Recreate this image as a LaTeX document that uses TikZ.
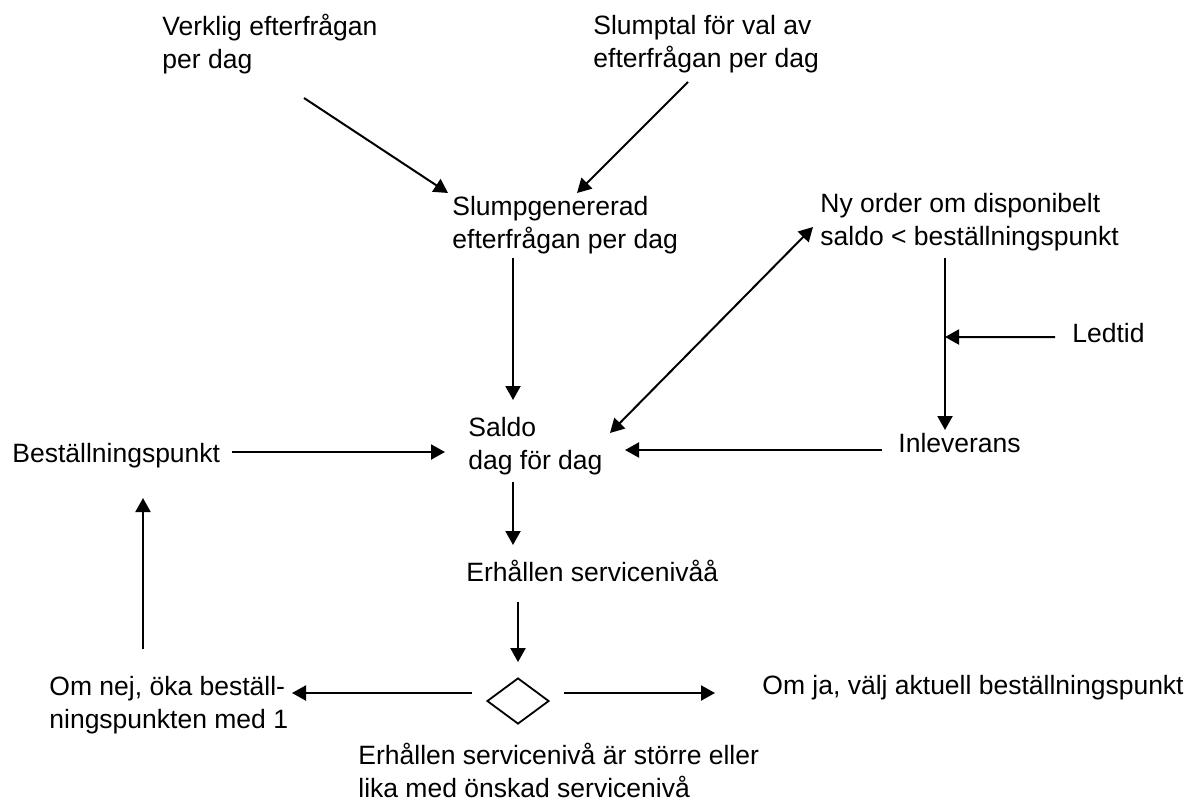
\documentclass[tikz,border=0pt]{standalone}
\usepackage{fontspec}
\setmainfont{Liberation Sans}
\usepackage{tikz}
\usetikzlibrary{arrows.meta,shapes.geometric,calc}
\tikzset{
  txt/.style={anchor=north west, inner sep=0pt, align=left,
              font=\fontsize{13.25}{16.5}\selectfont},
  fwd/.style={->, line width=1pt, >={Triangle[length=7pt,width=7.5pt]}},
  bidir/.style={<->, line width=1pt, >={Triangle[length=7pt,width=7.5pt]}},
  decision/.style={diamond, draw, line width=0.9pt, minimum width=31pt,
                   minimum height=23pt, inner sep=0pt},
}

\begin{document}
\begin{tikzpicture}[x=0.5pt, y=-0.5pt]
  \useasboundingbox (0,0) rectangle (1187,809);

  \node[txt] (verklig) at (162,14) {Verklig efterfrågan\\per dag};
  \node[txt] (slumptal) at (593,15) {Slumptal för val av\\efterfrågan per dag};
  \node[txt] (slumpgen) at (452,196) {Slumpgenererad\\efterfrågan per dag};
  \node[txt] (nyorder) at (820,193) {Ny order om disponibelt\\saldo < beställningspunkt};
  \node[txt] (ledtid) at (1072,323) {Ledtid};
  \node[txt] (saldo) at (468,417) {Saldo\\dag för dag};
  \node[txt] (bestpunkt) at (12,443) {Beställningspunkt};
  \node[txt] (inleverans) at (898,433) {Inleverans};
  \node[txt] (erhallen) at (466,560) {Erhållen servicenivåå};
  \node[decision] (beslut) at (518,701) {};
  \node[txt] (omnej) at (49,676) {Om nej, öka beställ-\\ningspunkten med 1};
  \node[txt] (omja) at (762,675) {Om ja, välj aktuell beställningspunkt};
  \node[txt] (villkor) at (358,743) {Erhållen servicenivå är större eller\\lika med önskad servicenivå};

  % inflow to the random demand
  \draw[fwd] ($(verklig.north west)+(142,84)$) -- ($(slumpgen.north west)+(-4,-3)$);
  \draw[fwd] ($(slumptal.north west)+(95,67)$) -- ($(slumpgen.north west)+(125,-3)$);
  \draw[fwd] ($(slumpgen.north west)+(61,62)$) -- ($(saldo.north west)+(45,-17)$);

  % order loop
  \draw[bidir] ($(nyorder.north west)+(-7,34)$) -- ($(saldo.north west)+(142,16)$);
  \draw[fwd] ($(nyorder.north west)+(125,65)$) -- coordinate[pos=0.4593] (ledtidmal)
             ($(inleverans.north west)+(47,-3)$);
  \draw[fwd] ($(ledtid.north west)+(-17,14)$) -- (ledtidmal);
  \draw[fwd] ($(inleverans.north west)+(-16,17)$) -- ($(saldo.north west)+(157,33)$);
  \draw[fwd] ($(bestpunkt.north west)+(220,9)$) -- ($(saldo.north west)+(-23,35)$);

  % service level check
  \draw[fwd] ($(saldo.north west)+(45,65)$) -- ($(erhallen.north west)+(47,-15)$);
  \draw[fwd] ($(erhallen.north west)+(52,42)$) -- ($(beslut.north)+(0,-15)$);
  \draw[fwd] ($(beslut.west)+(-14,-8)$) -- ($(omnej.north west)+(243,17)$);
  \draw[fwd] ($(beslut.east)+(14,-8)$) -- ($(omja.north west)+(-47,18)$);
  \draw[fwd] ($(omnej.north west)+(94,-27)$) -- ($(bestpunkt.north west)+(131,55)$);
\end{tikzpicture}
\end{document}
